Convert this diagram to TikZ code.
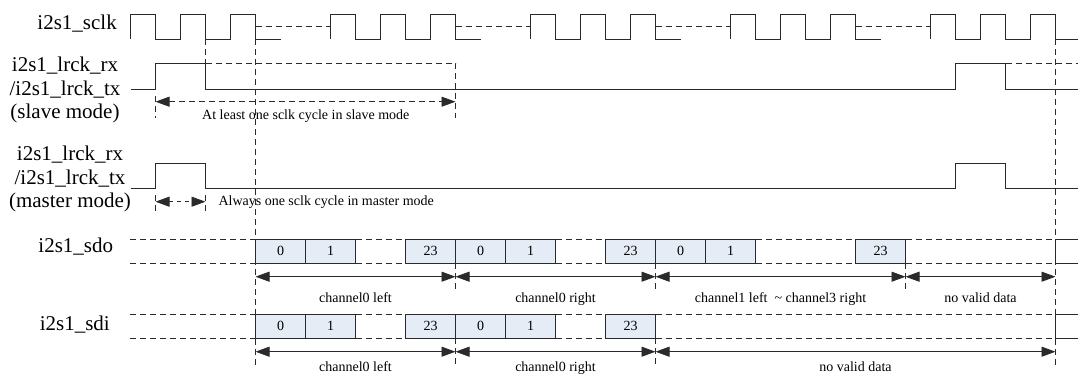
\documentclass[tikz,border=0pt]{standalone}
\usepackage{fontspec}
\setmainfont{Liberation Serif}
\usetikzlibrary{arrows.meta}
\definecolor{bitfill}{HTML}{E6ECF6}
\definecolor{ink}{HTML}{2A2A2A}
\begin{document}
\begin{tikzpicture}[x=1pt,y=-1pt,
  wave/.style={line width=0.9pt, draw=ink},
  guide/.style={line width=0.8pt, draw=ink, dash pattern=on 6pt off 4pt},
  bit/.style={draw=ink, fill=bitfill, line width=0.8pt, minimum width=50pt,
    inner sep=0pt, outer sep=0pt, font=\fontsize{14}{16}\selectfont},
  dim/.style={line width=0.9pt, draw=ink,
    {Triangle[length=14pt,width=10pt]}-{Triangle[length=14pt,width=10pt]}},
  lbl/.style={font=\fontsize{21}{23}\selectfont, inner sep=0pt},
  note/.style={font=\fontsize{14}{16}\selectfont, inner sep=0pt}]
\fill[white] (0,0) rectangle (1078,377);
\useasboundingbox (0,0) rectangle (1078,377);

% ---------- signal names ----------
\node[lbl, anchor=base east] (nsclk) at (117,29.3) {i2s1\_sclk};
\node[lbl, anchor=base] (ns1) at (65,72) {i2s1\_lrck\_rx};
\node[lbl, anchor=base] (ns2) at (65,96) {/i2s1\_lrck\_tx};
\node[lbl, anchor=base] (ns3) at (65,119) {(slave mode)};
\node[lbl, anchor=base] (nm1) at (70,160) {i2s1\_lrck\_rx};
\node[lbl, anchor=base] (nm2) at (70,184) {/i2s1\_lrck\_tx};
\node[lbl, anchor=base] (nm3) at (70,207) {(master mode)};
\node[lbl, anchor=base east] (nsdo) at (113.3,252.7) {i2s1\_sdo};
\node[lbl, anchor=base east] (nsdi) at (110,330) {i2s1\_sdi};

% ---------- long timing guides ----------
\draw[guide] (205.5,39) -- (205.5,89);
\draw[guide] (255.5,39) -- (255.5,366);
\draw[guide] (1055.5,39) -- (1055.5,366);

% ---------- sclk: five bursts of three cycles ----------
\foreach \s/\e in {130.5/280.5,330.5/480.5,530.5/680.5,730.5/880.5,930.5/1078}{
  \draw[wave] (\s,39) -- (\s,14) -- (\s+25,14) -- (\s+25,39) -- (\s+50,39)
    -- (\s+50,14) -- (\s+75,14) -- (\s+75,39) -- (\s+100,39) -- (\s+100,14)
    -- (\s+125,14) -- (\s+125,39) -- (\e,39);
}
\foreach \s in {255.5,455.5,655.5,855.5}
  \draw[guide] (\s,26.5) -- (\s+75,26.5);

% ---------- lrck, slave mode ----------
\draw[wave] (130.5,89) -- (155.5,89) -- (155.5,63.3) -- (205.5,63.3) -- (205.5,89)
  -- (955.5,89) -- (955.5,63.3) -- (1005.5,63.3) -- (1005.5,89) -- (1078,89);
\draw[guide] (205.5,63.3) -- (455.5,63.3) -- (455.5,118);
\draw[guide] (1005.5,63.3) -- (1078,63.3);
\draw[guide] (155.5,96) -- (155.5,118);
\draw[dim, dash pattern=on 6pt off 4pt] (155.5,101.7) -- (455.5,101.7);
\node[note, anchor=base] (tslave) at (305.8,120) {At least one sclk cycle in slave mode};

% ---------- lrck, master mode ----------
\draw[wave] (130.5,188.3) -- (155.5,188.3) -- (155.5,163.3) -- (205.5,163.3) -- (205.5,188.3)
  -- (955.5,188.3) -- (955.5,163.3) -- (1005.5,163.3) -- (1005.5,188.3) -- (1078,188.3);
\draw[guide] (155.5,195) -- (155.5,214);
\draw[guide] (205.5,195) -- (205.5,214);
\draw[dim, dash pattern=on 4pt off 4pt] (155.5,201.7) -- (205.5,201.7);
\node[note, anchor=base west] (tmaster) at (218.3,205) {Always one sclk cycle in master mode};

% ---------- sdo bus ----------
\foreach \a/\b in {130/255.5,355.5/405.5,555.5/605.5,755.5/855.5,905.5/1055.5}{
  \draw[guide] (\a,239) -- (\b,239);
  \draw[guide] (\a,263.3) -- (\b,263.3);
}
\draw[wave] (1078,239) -- (1055.5,239) -- (1055.5,263.3) -- (1078,263.3);
\foreach \k/\t in {0/0,1/1,3/23,4/0,5/1,7/23,8/0,9/1,12/23}
  \node[bit, minimum height=24.3pt] (sdo\k) at (280.5+50*\k,251.15) {\t};
\foreach \x in {455.5,655.5,905.5}
  \draw[guide] (\x,263.3) -- (\x,290);
\draw[dim] (255.5,276.7) -- (455.5,276.7);
\draw[dim] (455.5,276.7) -- (655.5,276.7);
\draw[dim] (655.5,276.7) -- (905.5,276.7);
\draw[dim] (905.5,276.7) -- (1055.5,276.7);
\node[note, anchor=base] (lo1) at (355.5,302) {channel0 left};
\node[note, anchor=base] (lo2) at (555.5,302) {channel0 right};
\node[note, anchor=base] (lo3) at (780.5,302) {channel1 left\ \ \textasciitilde\ channel3 right};
\node[note, anchor=base] (lo4) at (980.5,302) {no valid data};

% ---------- sdi bus ----------
\foreach \a/\b in {130/255.5,355.5/405.5,555.5/605.5,655.5/1055.5}{
  \draw[guide] (\a,314.3) -- (\b,314.3);
  \draw[guide] (\a,338.3) -- (\b,338.3);
}
\draw[wave] (1078,314.3) -- (1055.5,314.3) -- (1055.5,338.3) -- (1078,338.3);
\foreach \k/\t in {0/0,1/1,3/23,4/0,5/1,7/23}
  \node[bit, minimum height=24pt] (sdi\k) at (280.5+50*\k,326.3) {\t};
\foreach \x in {455.5,655.5}
  \draw[guide] (\x,338.3) -- (\x,365);
\draw[dim] (255.5,351.7) -- (455.5,351.7);
\draw[dim] (455.5,351.7) -- (655.5,351.7);
\draw[dim] (655.5,351.7) -- (1055.5,351.7);
\node[note, anchor=base] (li1) at (355.5,371) {channel0 left};
\node[note, anchor=base] (li2) at (555.5,371) {channel0 right};
\node[note, anchor=base] (li3) at (855.5,371) {no valid data};
\end{tikzpicture}
\end{document}
